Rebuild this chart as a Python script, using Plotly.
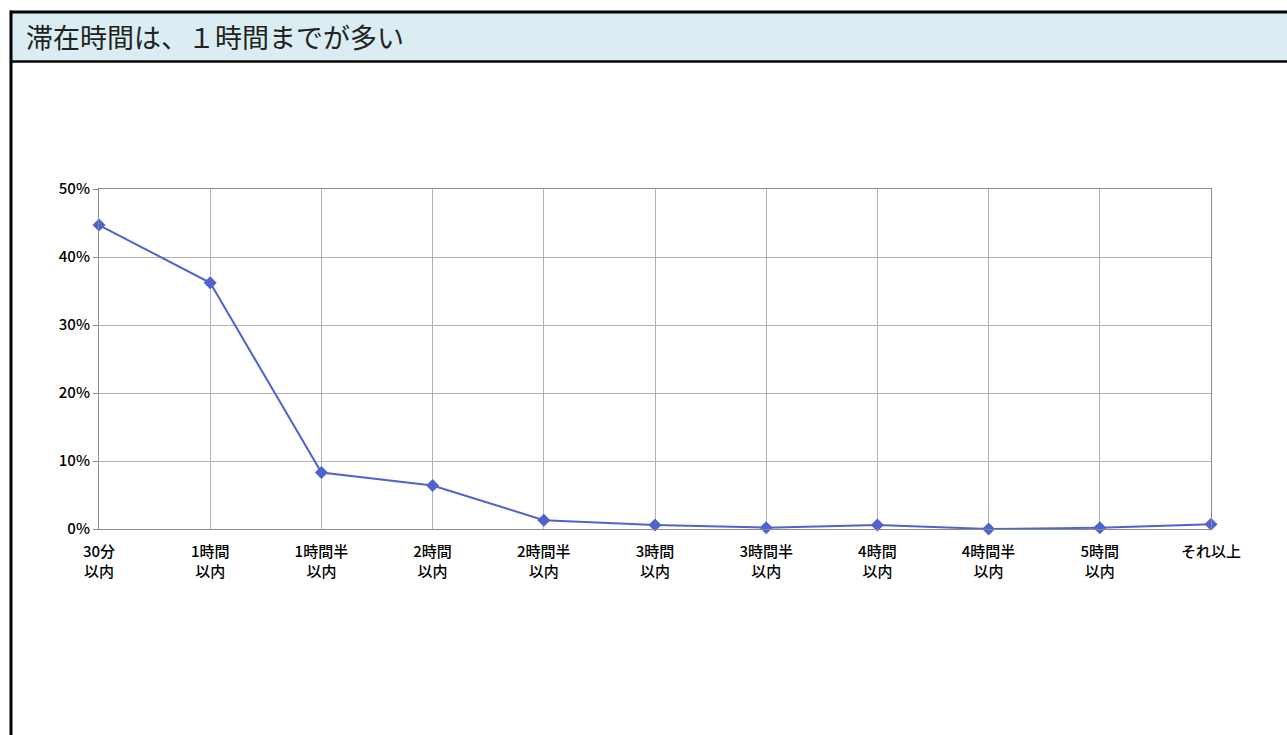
import plotly.graph_objects as go

# 滞在時間の分布
categories = ["30分<br>以内", "1時間<br>以内", "1時間半<br>以内", "2時間<br>以内", "2時間半<br>以内",
              "3時間<br>以内", "3時間半<br>以内", "4時間<br>以内", "4時間半<br>以内", "5時間<br>以内", "それ以上"]
share_pct = [44.7, 36.2, 8.3, 6.4, 1.3, 0.6, 0.2, 0.6, 0.0, 0.2, 0.7]
y_ticks = [0, 10, 20, 30, 40, 50]
title_text = "滞在時間は、１時間までが多い"

W, H = 1287, 735
PL, PR, PT, PB = 99, 1211, 189, 529  # plot area edges in pixels
JP_FONT = "Noto Sans CJK JP"
TICK_FONT = dict(family=JP_FONT, size=15, color="#000000", weight=500)


def dx(px):
    return (px - PL) / (PR - PL)


def dy(py):
    return (PB - py) / (PB - PT)


fig = go.Figure(
    go.Scatter(
        x=list(range(len(categories))),
        y=share_pct,
        mode="lines+markers",
        line=dict(color="#4f63cf", width=2),
        marker=dict(symbol="diamond", size=10, color="#4f63cf"),
        cliponaxis=False,
        hoverinfo="skip",
    )
)

fig.update_layout(
    width=W, height=H,
    margin=dict(l=PL, r=W - PR, t=PT, b=H - PB),
    paper_bgcolor="white",
    plot_bgcolor="white",
    showlegend=False,
    font=dict(family=JP_FONT, color="#000000", size=14),
    xaxis=dict(
        range=[0, len(categories) - 1],
        tickmode="array",
        tickvals=list(range(len(categories))),
        ticktext=categories,
        showgrid=True, gridcolor="#b3b3b3", gridwidth=1,
        showline=True, linecolor="#8c8c8c", linewidth=1, mirror=True,
        ticks="", zeroline=False, ticklabelstandoff=9,
        tickfont=TICK_FONT,
    ),
    yaxis=dict(
        range=[0, 50],
        tickmode="array",
        tickvals=y_ticks,
        ticktext=[f"{v}%" for v in y_ticks],
        showgrid=True, gridcolor="#b3b3b3", gridwidth=1,
        showline=True, linecolor="#8c8c8c", linewidth=1, mirror=True,
        ticks="outside", ticklen=5, tickcolor="#8c8c8c",
        zeroline=False,
        tickfont=TICK_FONT,
    ),
)

# Header band and outer frame
fig.add_shape(type="rect", xref="x domain", yref="y domain",
              x0=dx(11), x1=dx(1290), y0=dy(61), y1=dy(12),
              fillcolor="#daedf3", line_width=0, layer="below")
fig.add_shape(type="line", xref="x domain", yref="y domain",
              x0=dx(10), x1=dx(1290), y0=dy(12), y1=dy(12),
              line=dict(color="#000000", width=3))
fig.add_shape(type="line", xref="x domain", yref="y domain",
              x0=dx(10), x1=dx(1290), y0=dy(61.5), y1=dy(61.5),
              line=dict(color="#000000", width=2.5))
fig.add_shape(type="line", xref="x domain", yref="y domain",
              x0=dx(11), x1=dx(11), y0=dy(10.5), y1=dy(740),
              line=dict(color="#000000", width=3))

fig.add_annotation(
    text=title_text, xref="x domain", yref="y domain",
    x=dx(24), y=dy(36.5),
    xanchor="left", yanchor="middle", showarrow=False,
    font=dict(family=JP_FONT, size=27, color="#222222"),
)

fig.write_html("out.html")
